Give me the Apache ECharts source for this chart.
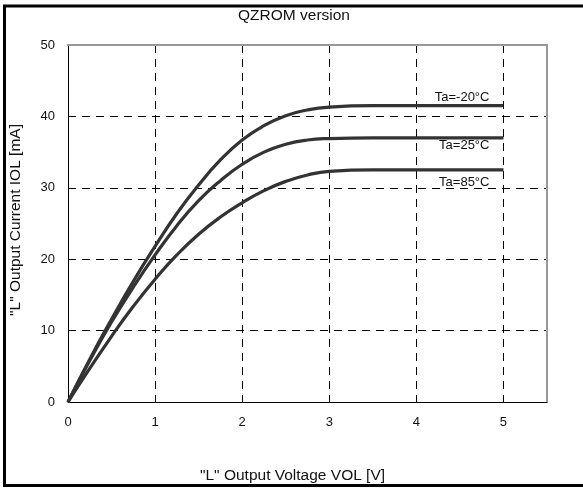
<!DOCTYPE html>
<html>
<head>
<meta charset="utf-8">
<script src="https://cdn.jsdelivr.net/npm/echarts@6/dist/echarts.min.js"></script>
<style>
  html, body { margin: 0; padding: 0; background: #fff; }
  #chart { width: 583px; height: 488px; }
</style>
</head>
<body>
<div id="chart"></div>
<script>
// IOL–VOL characteristics at three ambient temperatures
const voltages = [0, 0.25, 0.5, 0.75, 1, 1.25, 1.5, 1.75, 2, 2.25, 2.5, 2.75, 3, 3.5, 4, 4.5, 5];
const iolMinus20 = [0, 6.0, 11.6, 16.9, 21.8, 26.4, 30.4, 33.9, 36.7, 38.7, 40.1, 40.9, 41.3, 41.5, 41.5, 41.5, 41.5];
const iol25 = [0, 5.8, 11.2, 16.1, 20.6, 24.7, 28.2, 31.0, 33.3, 35.0, 36.1, 36.7, 36.9, 37.0, 37.0, 37.0, 37.0];
const iol85 = [0, 4.7, 9.2, 13.4, 17.2, 20.6, 23.5, 25.9, 27.9, 29.6, 30.9, 31.8, 32.3, 32.5, 32.5, 32.5, 32.5];
const curveNames = ['Ta=-20°C', 'Ta=25°C', 'Ta=85°C'];
const xTicks = ['0', '1', '2', '3', '4', '5'];
const yTicks = ['0', '10', '20', '30', '40', '50'];

const FONT = 'Liberation Sans, Arial, sans-serif';

function pairs(ys) {
  return voltages.map((v, i) => [v, ys[i]]);
}

function curve(name, ys, offset) {
  const last = ys[ys.length - 1];
  return {
    name: name,
    type: 'line',
    data: pairs(ys),
    smooth: true,
    symbol: 'none',
    lineStyle: { color: '#333', width: 3.2 },
    markPoint: {
      symbol: 'circle',
      symbolSize: 1,
      itemStyle: { color: 'rgba(0,0,0,0)' },
      data: [{ coord: [voltages[voltages.length - 1], last] }],
      label: {
        show: true,
        formatter: name,
        position: 'inside',
        align: 'right',
        verticalAlign: 'middle',
        offset: offset,
        color: '#111',
        fontFamily: FONT,
        fontSize: 13
      }
    }
  };
}

const chart = echarts.init(document.getElementById('chart'), null, { renderer: 'canvas' });

chart.setOption({
  animation: false,
  backgroundColor: '#fff',
  textStyle: { fontFamily: FONT },
  grid: { left: 68, right: 36, top: 45, bottom: 86, containLabel: false },
  title: {
    text: 'QZROM version',
    left: 294,
    top: 8,
    padding: 0,
    textAlign: 'center',
    textStyle: { fontFamily: FONT, fontSize: 15.5, fontWeight: 'normal', color: '#111' }
  },
  graphic: [
    {
      type: 'rect',
      silent: true,
      z: 100,
      shape: { x: 4.5, y: 6, width: 700, height: 479.5 },
      style: { fill: 'none', stroke: '#000', lineWidth: 3 }
    },
    {
      type: 'text',
      silent: true,
      x: 200,
      y: 476,
      style: {
        text: '"L" Output Voltage VOL [V]',
        fill: '#111',
        font: '15.5px ' + FONT,
        textAlign: 'left',
        textVerticalAlign: 'middle'
      }
    },
    {
      type: 'text',
      silent: true,
      rotation: Math.PI / 2,
      x: 16,
      y: 220,
      style: {
        text: '"L" Output Current IOL [mA]',
        fill: '#111',
        font: '15.5px ' + FONT,
        textAlign: 'center',
        textVerticalAlign: 'middle'
      }
    }
  ],
  xAxis: [
    {
      type: 'value',
      min: 0,
      max: 5.5,
      interval: 1,
      position: 'bottom',
      axisLine: { show: true, onZero: false, lineStyle: { color: '#000', width: 1 } },
      axisTick: { show: false },
      axisLabel: {
        showMaxLabel: false,
        margin: 14,
        color: '#111',
        fontSize: 13,
        fontFamily: FONT,
        formatter: v => xTicks[Math.round(v)] ?? ''
      },
      splitLine: { show: true, lineStyle: { color: '#000', type: [8, 6], width: 1 } }
    },
    {
      type: 'value',
      min: 0,
      max: 5.5,
      position: 'top',
      axisLine: { show: true, onZero: false, lineStyle: { color: '#999', width: 2 } },
      axisTick: { show: false },
      axisLabel: { show: false },
      splitLine: { show: false }
    }
  ],
  yAxis: [
    {
      type: 'value',
      min: 0,
      max: 50,
      interval: 10,
      position: 'left',
      axisLine: { show: true, onZero: false, lineStyle: { color: '#000', width: 1 } },
      axisTick: { show: false },
      axisLabel: {
        margin: 13,
        color: '#111',
        fontSize: 13,
        fontFamily: FONT,
        formatter: v => yTicks[Math.round(v / 10)] ?? ''
      },
      splitLine: { show: true, lineStyle: { color: '#000', type: [8, 6], width: 1 } }
    },
    {
      type: 'value',
      min: 0,
      max: 50,
      position: 'right',
      axisLine: { show: true, onZero: false, lineStyle: { color: '#999', width: 2 } },
      axisTick: { show: false },
      axisLabel: { show: false },
      splitLine: { show: false }
    }
  ],
  series: [
    curve(curveNames[0], iolMinus20, [-14, -8]),
    curve(curveNames[1], iol25, [-14, 8]),
    curve(curveNames[2], iol85, [-14, 12])
  ]
});
</script>
</body>
</html>
